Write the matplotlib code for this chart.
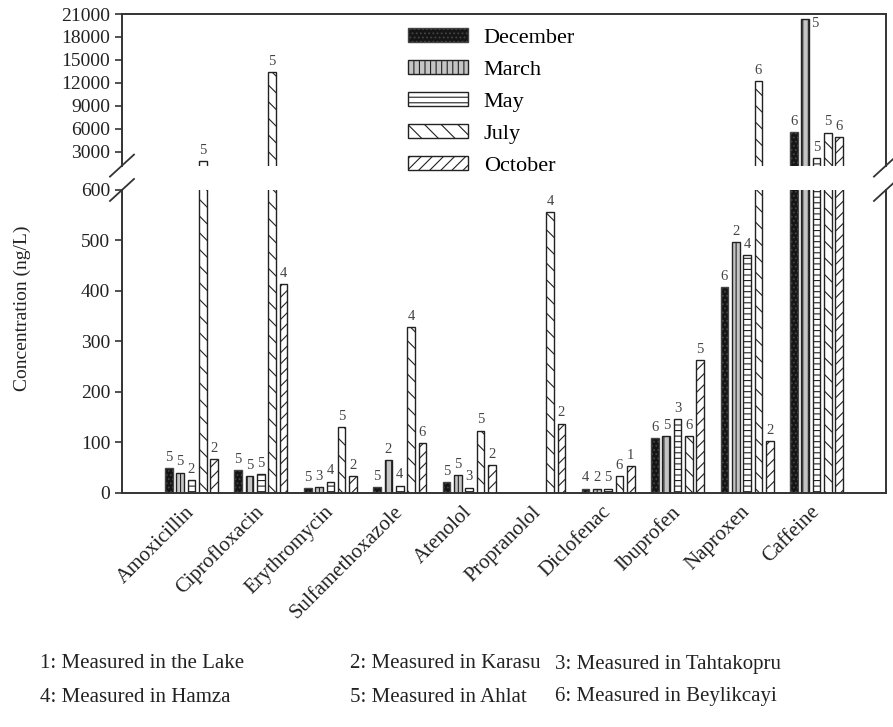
import numpy as np
import matplotlib
matplotlib.use('Agg')
import matplotlib.pyplot as plt

plt.rcParams['font.family'] = ['Liberation Serif', 'DejaVu Serif']
plt.rcParams['hatch.linewidth'] = 0.8

# Data (ng/L)
drugs = ['Amoxicillin', 'Ciprofloxacin', 'Erythromycin', 'Sulfamethoxazole', 'Atenolol',
         'Propranolol', 'Diclofenac', 'Ibuprofen', 'Naproxen', 'Caffeine']
months = ['December', 'March', 'May', 'July', 'October']

dec_vals = [49, 45, 9, 11, 21, 0, 8, 108, 407, 5600]
mar_vals = [40, 33, 11, 65, 35, 0, 8, 112, 497, 20300]
may_vals = [25, 37, 22, 14, 10, 0, 8, 146, 471, 2200]
jul_vals = [1800, 13400, 130, 329, 123, 556, 33, 112, 12200, 5500]
oct_vals = [66, 414, 33, 99, 55, 137, 53, 262, 102, 4900]

# sampling site number written above each bar
dec_site = ['5', '5', '5', '5', '5', '', '4', '6', '6', '6']
mar_site = ['5', '5', '3', '2', '5', '', '2', '5', '2', '5']
may_site = ['2', '5', '4', '4', '3', '', '5', '3', '4', '5']
jul_site = ['5', '5', '5', '4', '5', '4', '6', '6', '6', '5']
oct_site = ['2', '4', '2', '6', '2', '2', '1', '5', '2', '6']

site_notes = ['1: Measured in the Lake', '2: Measured in Karasu', '3: Measured in Tahtakopru',
              '4: Measured in Hamza', '5: Measured in Ahlat', '6: Measured in Beylikcayi']

lower_ticks = [0, 100, 200, 300, 400, 500, 600]
upper_ticks = [3000, 6000, 9000, 12000, 15000, 18000, 21000]

series = [dec_vals, mar_vals, may_vals, jul_vals, oct_vals]
sites = [dec_site, mar_site, may_site, jul_site, oct_site]
styles = [dict(color='#151515', hatch='....', edgecolor='#444444'),
          dict(color='#c4c4c4', hatch='|||', edgecolor='#222222'),
          dict(color='white', hatch='---', edgecolor='#222222'),
          dict(color='white', hatch='\\\\', edgecolor='#222222'),
          dict(color='white', hatch='///', edgecolor='#222222')]

fig = plt.figure(figsize=(8.93, 7.27), dpi=100)
ax_up = fig.add_axes([0.1366, 0.7722, 0.8555, 0.2085])
ax_low = fig.add_axes([0.1366, 0.3223, 0.8555, 0.4164])

x = np.arange(len(drugs))
step = 0.163
width = 0.11

handles = []
for i, (vals, labs, st) in enumerate(zip(series, sites, styles)):
    vals = np.array(vals, dtype=float)
    pos = x + (i - 2) * step
    keep = vals > 0
    for ax in (ax_up, ax_low):
        b = ax.bar(pos[keep], vals[keep], width=width, facecolor=st['color'], hatch=st['hatch'],
                   edgecolor=st['edgecolor'], linewidth=1.0, label=months[i])
        if ax is ax_low:
            handles.append(b)
    # site labels
    for p, v, lab in zip(pos, vals, labs):
        if not lab:
            continue
        if v <= 600:
            ax_low.annotate(lab, (p, v), xytext=(0, 3), textcoords='offset points',
                            ha='center', va='bottom', fontsize=10.5, color='#444444')
        elif v > 0.95 * 21000:
            ax_up.annotate(lab, (p, v), xytext=(7, -3), textcoords='offset points',
                           ha='center', va='center', fontsize=10.5, color='#444444')
        else:
            ax_up.annotate(lab, (p, v), xytext=(0, 3), textcoords='offset points',
                           ha='center', va='bottom', fontsize=10.5, color='#444444')

ax_low.set_ylim(0, 600)
ax_up.set_ylim(1170, 21000)
for ax in (ax_up, ax_low):
    ax.set_xlim(-1, 10)
    for s in ax.spines.values():
        s.set_linewidth(1.4)
        s.set_color('#333333')
    ax.tick_params(axis='y', direction='out', length=5, width=1.2, labelsize=14, colors='#333333',
                   labelcolor='#222222')

ax_up.spines['bottom'].set_visible(False)
ax_low.spines['top'].set_visible(False)
ax_up.set_xticks([])
ax_up.set_yticks(upper_ticks)
ax_low.set_yticks(lower_ticks)

ax_low.set_xticks(x)
ax_low.set_xticklabels(drugs, rotation=45, ha='right', va='center', rotation_mode='anchor',
                       fontsize=15, color='#222222')
ax_low.tick_params(axis='x', length=0, pad=12)

# break marks
dx, dyu, dyl = 0.0157, 0.0726, 0.0363
kw = dict(color='#333333', linewidth=1.3, clip_on=False)
ax_up.plot([-dx, dx], [-dyu, dyu], transform=ax_up.transAxes, **kw)
ax_up.plot([1 - dx, 1 + dx], [-dyu, dyu], transform=ax_up.transAxes, **kw)
ax_low.plot([-dx, dx], [1 - dyl, 1 + dyl], transform=ax_low.transAxes, **kw)
ax_low.plot([1 - dx, 1 + dx], [1 - dyl, 1 + dyl], transform=ax_low.transAxes, **kw)

fig.text(0.025, 0.576, 'Concentration (ng/L)', rotation=90, ha='center', va='center',
         fontsize=14, color='#222222')

fig.legend(handles=handles, labels=months, loc='upper left', bbox_to_anchor=(0.457, 0.962),
           frameon=False, fontsize=16, handlelength=2.7, handleheight=0.6, labelspacing=0.55,
           handletextpad=0.7, borderpad=0, borderaxespad=0)

# notes about sampling sites
note_x = [0.045, 0.392, 0.622]
note_y = [1 - 664 / 727, 1 - 697 / 727]
for k, note in enumerate(site_notes):
    fig.text(note_x[k % 3], note_y[k // 3], note, ha='left', va='center', fontsize=15,
             color='#222222')

fig.savefig('out.png', dpi=100)
